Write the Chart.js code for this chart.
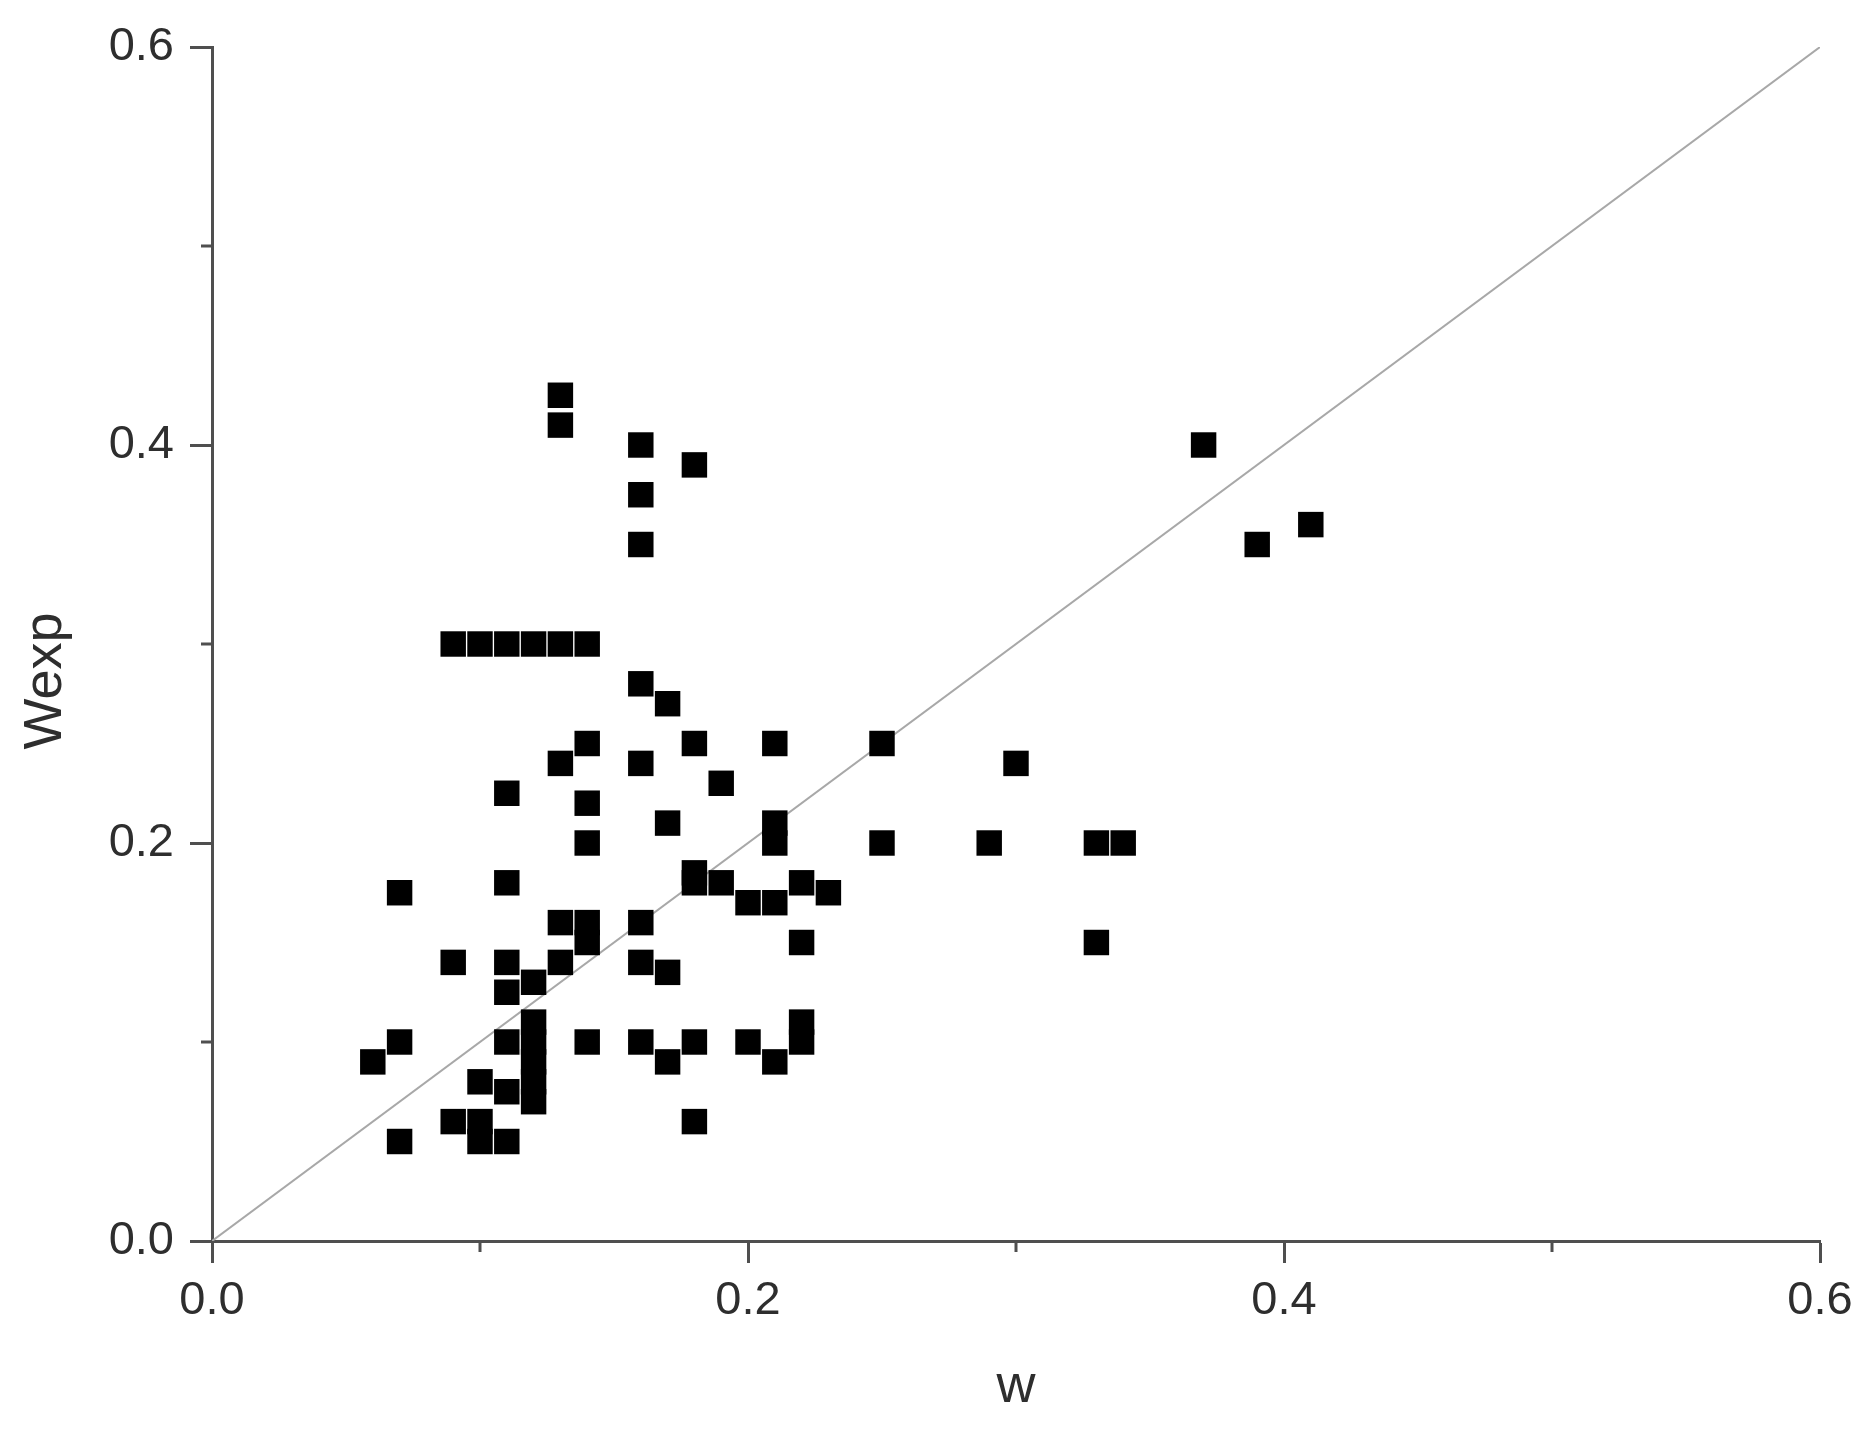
<!DOCTYPE html>
<html>
<head>
<meta charset="utf-8">
<script src="https://cdn.jsdelivr.net/npm/chart.js@4.4.1/dist/chart.umd.min.js"></script>
<style>
  html, body { margin: 0; padding: 0; background: #fff; }
  #wrap { width: 1874px; height: 1432px; }
</style>
</head>
<body>
<div id="wrap"><canvas id="scatter-chart" width="1874" height="1432"></canvas></div>
<script>
// values
var wValues = [
    0.06,
    0.07, 0.07, 0.07,
    0.09, 0.09, 0.09,
    0.10, 0.10, 0.10, 0.10,
    0.11, 0.11, 0.11, 0.11, 0.11, 0.11, 0.11, 0.11,
    0.12, 0.12, 0.12, 0.12, 0.12, 0.12, 0.12,
    0.13, 0.13, 0.13, 0.13, 0.13, 0.13,
    0.14, 0.14, 0.14, 0.14, 0.14, 0.14, 0.14,
    0.16, 0.16, 0.16, 0.16, 0.16, 0.16, 0.16, 0.16,
    0.17, 0.17, 0.17, 0.17,
    0.18, 0.18, 0.18, 0.18, 0.18, 0.18,
    0.19, 0.19,
    0.20, 0.20,
    0.21, 0.21, 0.21, 0.21, 0.21,
    0.22, 0.22, 0.22, 0.22,
    0.23,
    0.25, 0.25,
    0.29,
    0.30,
    0.33, 0.33,
    0.34,
    0.37,
    0.39,
    0.41
];
var wexpValues = [
    0.09,
    0.175, 0.10, 0.05,
    0.30, 0.14, 0.06,
    0.30, 0.08, 0.06, 0.05,
    0.30, 0.225, 0.18, 0.14, 0.125, 0.10, 0.075, 0.05,
    0.30, 0.13, 0.11, 0.10, 0.09, 0.08, 0.07,
    0.425, 0.41, 0.30, 0.24, 0.16, 0.14,
    0.30, 0.25, 0.22, 0.20, 0.16, 0.15, 0.10,
    0.40, 0.375, 0.35, 0.28, 0.24, 0.16, 0.14, 0.10,
    0.27, 0.21, 0.135, 0.09,
    0.39, 0.25, 0.185, 0.18, 0.10, 0.06,
    0.23, 0.18,
    0.17, 0.10,
    0.25, 0.21, 0.20, 0.17, 0.09,
    0.18, 0.15, 0.11, 0.10,
    0.175,
    0.25, 0.20,
    0.20,
    0.24,
    0.20, 0.15,
    0.20,
    0.40,
    0.35,
    0.36
];
// y = x reference line
var diagX = [0, 0.6];
var diagY = [0, 0.6];
var minorTicks = [0.1, 0.3, 0.5];

var axisColor = '#4f4f4f';
var textColor = '#2e2e2e';
var fontFamily = '"Liberation Sans", Arial, sans-serif';

var points = wValues.map(function(w, i) { return {x: w, y: wexpValues[i]}; });
var diagonal = diagX.map(function(x, i) { return {x: x, y: diagY[i]}; });

// short unlabelled ticks between the labelled ones
var minorTickPlugin = {
    id: 'minorTicks',
    afterDraw: function(chart) {
        var ctx = chart.ctx;
        var xs = chart.scales.x, ys = chart.scales.y;
        var area = chart.chartArea;
        ctx.save();
        ctx.strokeStyle = axisColor;
        ctx.lineWidth = 3;
        minorTicks.forEach(function(v) {
            var px = xs.getPixelForValue(v);
            ctx.beginPath();
            ctx.moveTo(px, area.bottom);
            ctx.lineTo(px, area.bottom + 11);
            ctx.stroke();
            var py = ys.getPixelForValue(v);
            ctx.beginPath();
            ctx.moveTo(area.left, py);
            ctx.lineTo(area.left - 11, py);
            ctx.stroke();
        });
        // y axis title
        ctx.translate(46, 681);
        ctx.rotate(-Math.PI / 2);
        ctx.fillStyle = textColor;
        ctx.font = '54px ' + fontFamily;
        ctx.textAlign = 'center';
        ctx.textBaseline = 'middle';
        ctx.fillText('Wexp', 0, 0);
        ctx.restore();
    }
};

var canvas = document.getElementById('scatter-chart').getContext('2d');
var chart = new Chart(canvas, {
    type: 'scatter',
    data: {
        datasets: [{
            label: 'Wexp',
            data: points,
            pointStyle: 'rect',
            pointRadius: 18,
            pointHoverRadius: 18,
            backgroundColor: '#000',
            borderColor: '#000',
            borderWidth: 0
        }, {
            label: 'y = x',
            data: diagonal,
            showLine: true,
            pointRadius: 0,
            borderColor: '#a8a8a8',
            borderWidth: 2,
            fill: false
        }]
    },
    options: {
        responsive: false,
        animation: false,
        layout: {
            padding: {top: 47, right: 54, left: 0, bottom: 0}
        },
        plugins: {
            legend: {display: false},
            tooltip: {enabled: false}
        },
        scales: {
            x: {
                type: 'linear',
                min: 0,
                max: 0.6,
                afterFit: function(scale) { scale.height = 191; },
                border: {display: true, color: axisColor, width: 3},
                grid: {
                    display: true,
                    drawOnChartArea: false,
                    drawTicks: true,
                    tickLength: 22,
                    tickWidth: 3,
                    tickColor: axisColor
                },
                ticks: {
                    stepSize: 0.2,
                    padding: 10,
                    color: textColor,
                    font: {family: fontFamily, size: 47},
                    callback: function(v) { return v.toFixed(1); }
                },
                title: {
                    display: true,
                    text: 'w',
                    color: textColor,
                    font: {family: fontFamily, size: 54},
                    padding: {top: 0, bottom: 12}
                }
            },
            y: {
                type: 'linear',
                min: 0,
                max: 0.6,
                afterFit: function(scale) { scale.width = 212; },
                border: {display: true, color: axisColor, width: 3},
                grid: {
                    display: true,
                    drawOnChartArea: false,
                    drawTicks: true,
                    tickLength: 22,
                    tickWidth: 3,
                    tickColor: axisColor
                },
                ticks: {
                    stepSize: 0.2,
                    padding: 16,
                    color: textColor,
                    font: {family: fontFamily, size: 47},
                    callback: function(v) { return v.toFixed(1); }
                }
            }
        }
    },
    plugins: [minorTickPlugin]
});
</script>
</body>
</html>
